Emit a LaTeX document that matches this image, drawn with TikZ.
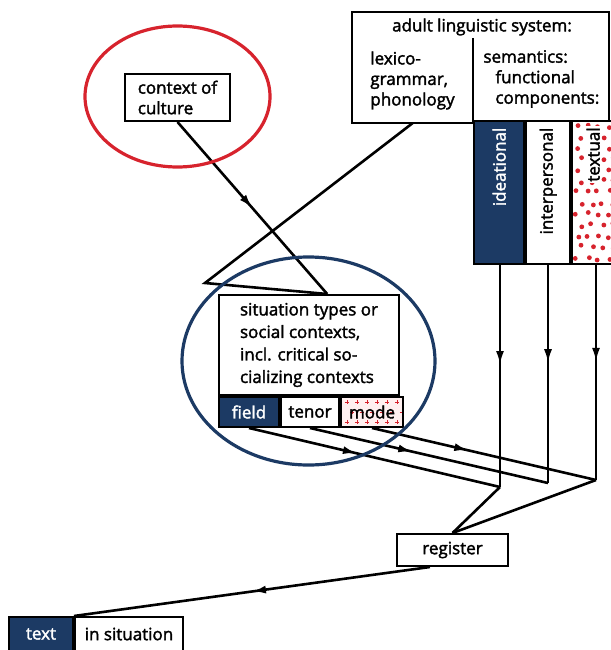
\documentclass[tikz,border=0pt]{standalone}
\usepackage{fontspec}
\IfFontExistsTF{Open Sans SemiBold}{\setsansfont{Open Sans SemiBold}}{\setsansfont{Open Sans}[FakeBold=2]}
\usetikzlibrary{arrows.meta,calc,positioning,decorations.markings}
\definecolor{navy}{HTML}{1C3A64}
\definecolor{rd}{HTML}{D7232D}

\begin{document}
\begin{tikzpicture}[x=1pt,y=-1pt,font=\sffamily\fontsize{17}{20.5}\selectfont,
  box/.style={draw,line width=2pt,inner sep=0pt},
  cell/.style={draw,line width=2pt,inner sep=0pt,minimum height=30pt},
  dark/.style={cell,fill=navy,text=white},
  arr/.style={line width=2.6pt},
  mid/.style={arr,postaction={decorate},decoration={markings,
    mark=at position #1 with {\arrow{Latex[length=14pt,width=8pt]}}}},
  mid/.default=.5,
  ring/.style={line width=3.2pt}]
  \useasboundingbox (0,0) rectangle (610,650);
  % adult linguistic system
  \node[box,minimum width=257pt,minimum height=111pt] (system) at (480.5,67.5) {};
  \node (title) at (482,27) {adult linguistic system:};
  \node[minimum width=121pt,minimum height=85pt,inner sep=0pt,align=left] (lexico) at (412.5,80.5)
    {lexico-\\grammar,\\phonology};
  \draw[line width=2pt] (lexico.north east) -- (lexico.south east);
  \node[minimum width=136pt,minimum height=82pt,inner sep=0pt,align=left,anchor=north west]
    (sem) at (lexico.north east)
    {semantics:\\\hspace*{12pt}functional\\\hspace*{12pt}components:};
  % functional components
  \node[dark,minimum width=50pt,minimum height=143pt,anchor=north west] (ideational) at (sem.south west) {};
  \node[cell,fill=white,minimum width=44pt,minimum height=143pt,right=0pt of ideational] (interpersonal) {};
  \node[cell,fill=white,minimum width=42pt,minimum height=143pt,right=0pt of interpersonal,
    path picture={\pgfmathsetseed{11}
      \foreach \r in {0,...,12}{\foreach \c in {0,...,3}{
        \fill[rd] ($(path picture bounding box.north west)
          +({5+\c*10.5+mod(\r,2)*4+rand*2},{5+\r*11+rand*2})$) circle[radius=2.4pt];}}}] (textual) {};
  \node[rotate=90,anchor=east,text=white] (ideal) at ($(ideational.north)+(0,4)$) {ideational};
  \node[rotate=90,anchor=east] (interl) at ($(interpersonal.north)+(0,4)$) {interpersonal};
  \node[rotate=90,anchor=east,fill=white,inner sep=1pt] (textl) at ($(textual.north)+(0,6)$) {textual};
  % context of culture
  \node[box,minimum width=105pt,minimum height=47pt,align=left] (culture) at (177.5,97.5)
    {context of\\culture};
  % situation types
  \node[box,minimum width=180pt,minimum height=100pt,align=left,
    font=\sffamily\fontsize{17}{22.5}\selectfont] (sit) at (309,345)
    {situation types or\\social contexts,\\incl. critical so-\\cializing contexts};
  \node[dark,minimum width=60pt,anchor=north west] (field) at (sit.south west) {field};
  \node[cell,minimum width=58pt,right=0pt of field] (tenor) {tenor};
  \node[cell,fill=red!6,minimum width=62pt,right=0pt of tenor,
    path picture={
      \foreach \r in {0,1,2}{\foreach \c in {0,...,5}{
        \draw[rd,line width=.9pt] ($(path picture bounding box.north west)+({6+\c*10+mod(\r,2)*5},{5+\r*10})$)
          +(-2.2,0) -- +(2.2,0) +(0,-2.2) -- +(0,2.2);}}}] (mode) {mode};
  % register and text
  \node[box,minimum width=111pt,minimum height=32pt] (register) at (452.5,550) {register};
  \node[dark,minimum width=64pt,minimum height=34pt,anchor=north west] (txt) at (8,616) {text};
  \node[cell,minimum width=108pt,minimum height=34pt,right=0pt of txt] (situ) {in situation};
  % connectors
  \coordinate (meet) at ($(sit.north west)!.6!(sit.north east)$);
  \coordinate (kink) at (205,283);
  \coordinate (ib) at (500,487);
  \coordinate (pb) at (548,483);
  \coordinate (tb) at (596,480);
  \draw[mid] (culture.south) -- (meet);
  \draw[arr,line join=miter] (lexico.south) -- (kink) -- (meet);
  \draw[mid=.45] (ideational.south -| ib) -- (ib);
  \draw[mid=.45] (interpersonal.south -| pb) -- (pb);
  \draw[mid=.45] (textual.south -| tb) -- (tb);
  \draw[mid=.43] (field.south) -- (ib);
  \draw[mid=.43] (tenor.south) -- (pb);
  \draw[mid=.43] (mode.south) -- (tb);
  \draw[arr] (ib) -- (register.north);
  \draw[arr] (tb) -- (register.north);
  \draw[mid] ($(register.south west)!.3!(register.south east)$) -- (txt.north east);
  % highlights
  \draw[ring,rd] (177.5,96.5) ellipse [x radius=92.5pt,y radius=70.5pt];
  \draw[ring,navy] (308.5,361) ellipse [x radius=126.5pt,y radius=104pt];
\end{tikzpicture}
\end{document}
